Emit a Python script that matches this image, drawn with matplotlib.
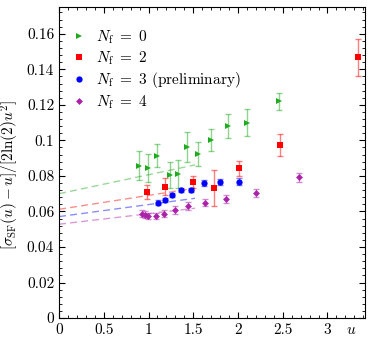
import matplotlib
matplotlib.use("Agg")
import matplotlib.pyplot as plt
from matplotlib.ticker import MultipleLocator
from matplotlib.lines import Line2D

plt.rcParams['font.family'] = ['cmr10', 'DejaVu Serif']
plt.rcParams['mathtext.fontset'] = 'cm'
plt.rcParams['axes.formatter.use_mathtext'] = True
plt.rcParams['font.size'] = 11

# N_f = 0
u0 = [0.889, 0.996, 1.10, 1.245, 1.33, 1.43, 1.553, 1.70, 1.888, 2.10, 2.453]
y0 = [0.0858, 0.0843, 0.0914, 0.0806, 0.0811, 0.0962, 0.0922, 0.1003, 0.1082, 0.1100, 0.1219]
e0 = [0.0080, 0.0080, 0.0064, 0.0075, 0.0080, 0.0085, 0.0068, 0.0063, 0.0068, 0.0075, 0.0049]

# N_f = 2
u2 = [0.981, 1.18, 1.50, 1.73, 2.01, 2.475, 3.337]
y2 = [0.0710, 0.0740, 0.0768, 0.0732, 0.0843, 0.0975, 0.1468]
e2 = [0.0040, 0.0050, 0.0034, 0.0099, 0.0043, 0.0061, 0.0105]

# N_f = 3 (preliminary)
u3 = [1.107, 1.185, 1.263, 1.364, 1.479, 1.617, 1.795, 2.01]
y3 = [0.0650, 0.0665, 0.0693, 0.0721, 0.0721, 0.0761, 0.0766, 0.0768]
e3 = [0.0012, 0.0012, 0.0012, 0.0013, 0.0013, 0.0015, 0.0015, 0.0020]

# N_f = 4
u4 = [0.929, 0.962, 0.996, 1.081, 1.178, 1.297, 1.44, 1.628, 1.869, 2.20, 2.687]
y4 = [0.0588, 0.0582, 0.0576, 0.0576, 0.0588, 0.0608, 0.0629, 0.0650, 0.0670, 0.0704, 0.0793]
e4 = [0.0018, 0.0018, 0.0018, 0.0018, 0.0020, 0.0020, 0.0022, 0.0022, 0.0022, 0.0025, 0.0025]

# linear fits (endpoints)
fit_u = [0.0, 1.52]
fit0 = [0.0700, 0.0862]
fit2 = [0.0612, 0.0731]
fit3 = [0.0571, 0.0674]
fit4 = [0.0528, 0.0618]

series = [
    (u0, y0, e0, fit0, '#1faa1f', '>', 5.0, r'$N_{\rm f}\ =\ 0$'),
    (u2, y2, e2, fit2, '#ff0000', 's', 4.0, r'$N_{\rm f}\ =\ 2$'),
    (u3, y3, e3, fit3, '#0000ff', 'o', 4.5, r'$N_{\rm f}\ =\ 3$ (preliminary)'),
    (u4, y4, e4, fit4, '#aa22aa', 'D', 3.5, r'$N_{\rm f}\ =\ 4$'),
]

fig = plt.figure(figsize=(3.74, 3.38), dpi=100)
ax = fig.add_axes([0.158, 0.059, 0.818, 0.920])

handles = []
for u, y, e, fit, col, mk, ms, lab in series:
    ax.plot(fit_u, fit, color=col, alpha=0.45, linestyle=(0, (5, 3)), linewidth=1.0)
    ax.errorbar(u, y, yerr=e, fmt='none', ecolor=col, alpha=0.5, elinewidth=1.0,
                capsize=2, capthick=1.0)
    ax.plot(u, y, linestyle='none', marker=mk, color=col, markersize=ms,
            markeredgewidth=0)
    handles.append(Line2D([], [], linestyle='none', marker=mk, color=col,
                          markersize=ms, markeredgewidth=0, label=lab))

ax.set_xlim(0, 3.42)
ax.set_ylim(0, 0.175)
ax.xaxis.set_minor_locator(MultipleLocator(0.1))
ax.yaxis.set_minor_locator(MultipleLocator(0.004))
ax.tick_params(which='both', direction='in', top=True, right=True)
ax.tick_params(which='major', length=4)
ax.tick_params(which='minor', length=2)
ax.set_xticks([0, 0.5, 1, 1.5, 2, 2.5, 3])
ax.set_xticklabels(['0', '0.5', '1', '1.5', '2', '2.5', '3'])
ax.set_yticks([0, 0.02, 0.04, 0.06, 0.08, 0.1, 0.12, 0.14, 0.16])
ax.set_yticklabels(['0', '0.02', '0.04', '0.06', '0.08', '0.1', '0.12', '0.14', '0.16'])

ax.set_ylabel(r'$[\sigma_{\rm SF}(u)-u]/[2\ln(2)u^2]$')
ax.yaxis.set_label_coords(-0.125, 0.46)
ax.text(0.955, -0.016, r'$u$', transform=ax.transAxes, ha='center', va='top')

ax.legend(handles=handles, loc='upper left', frameon=False, handlelength=1.0,
          handletextpad=0.6, labelspacing=0.2, borderaxespad=0.4,
          bbox_to_anchor=(0.0, 0.97))

fig.savefig('out.png', dpi=100)
